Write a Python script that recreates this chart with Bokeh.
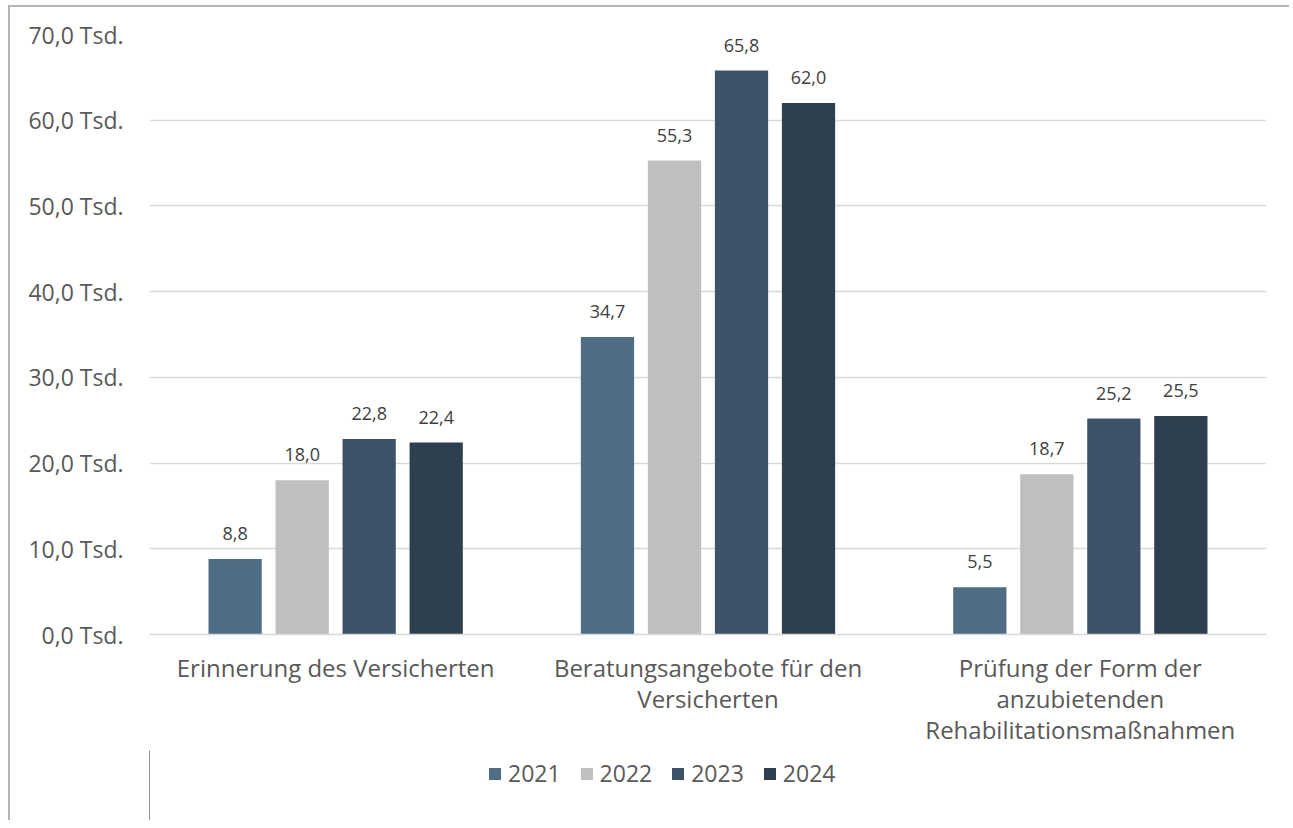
from bokeh.plotting import figure
from bokeh.models import FactorRange, FixedTicker, Legend, LegendItem, ColumnDataSource, Range1d
from bokeh.transform import dodge
from bokeh.layouts import column
from bokeh.embed import file_html
from bokeh.resources import INLINE

categories = ["Erinnerung des Versicherten",
              "Beratungsangebote für den\nVersicherten",
              "Prüfung der Form der\nanzubietenden\nRehabilitationsmaßnahmen"]
years = ["2021", "2022", "2023", "2024"]
values = {
    "2021": [8.8, 34.7, 5.5],
    "2022": [18.0, 55.3, 18.7],
    "2023": [22.8, 65.8, 25.2],
    "2024": [22.4, 62.0, 25.5],
}
colors = ["#4f6d87", "#bfbfbf", "#3d5267", "#2e4050"]
y_ticks = [0, 10, 20, 30, 40, 50, 60, 70]

FONT = "Open Sans"
BORDER = "2px solid #b4b4b4"

p = figure(x_range=FactorRange(factors=categories, range_padding=0),
           y_range=(0, 70), frame_width=1115, frame_height=598,
           output_backend="svg", toolbar_location=None,
           min_border_left=139, min_border_right=25, min_border_top=27,
           min_border_bottom=118)
p.styles = {"border-top": BORDER, "border-left": BORDER,
            "margin-left": "8px", "margin-top": "5px"}
p.outline_line_color = None
p.xgrid.grid_line_color = None
p.ygrid.grid_line_color = "#d9d9d9"
p.ygrid.grid_line_width = 1.5

offsets = [-0.27, -0.09, 0.09, 0.27]
for yr, col, off in zip(years, colors, offsets):
    src = ColumnDataSource(dict(cat=categories, v=values[yr],
                                lab=[f"{v:.1f}".replace(".", ",") for v in values[yr]]))
    p.vbar(x=dodge("cat", off, range=p.x_range), top="v", width=0.143,
           source=src, color=col, line_color=None)
    p.text(x=dodge("cat", off, range=p.x_range), y="v", text="lab", source=src,
           text_align="center", text_baseline="bottom", y_offset=-19,
           text_font_size="18px", text_color="#404040", text_font={"value": FONT})

p.yaxis.ticker = FixedTicker(ticks=y_ticks)
p.yaxis.major_label_overrides = {t: f"{t:.1f}".replace(".", ",") + " Tsd." for t in y_ticks}
p.yaxis.axis_line_color = None
p.yaxis.major_tick_line_color = None
p.yaxis.minor_tick_line_color = None
p.yaxis.major_label_standoff = 20
p.yaxis.major_label_text_font_size = "23px"
p.yaxis.major_label_text_color = "#595959"
p.yaxis.major_label_text_font = FONT

p.xaxis.axis_line_color = "#d9d9d9"
p.xaxis.axis_line_width = 1.5
p.xaxis.major_tick_line_color = None
p.xaxis.minor_tick_line_color = None
p.xaxis.major_tick_out = 0
p.xaxis.major_tick_in = 0
p.xaxis.major_label_standoff = 16
p.xaxis.major_label_text_font_size = "24px"
p.xaxis.major_label_text_color = "#595959"
p.xaxis.major_label_text_font = FONT
p.xaxis.major_label_text_line_height = 0.95
p.xaxis.major_label_orientation = "horizontal"

# legend strip below the chart
p2 = figure(frame_width=1115, frame_height=70, output_backend="svg",
            toolbar_location=None, min_border_left=139, min_border_right=25,
            min_border_top=0, min_border_bottom=0,
            x_range=Range1d(0, 1), y_range=Range1d(0, 1))
p2.styles = {"border-left": BORDER, "margin-left": "8px"}
p2.outline_line_color = None
p2.axis.visible = False
p2.grid.grid_line_color = None
items = []
for yr, col in zip(years, colors):
    r = p2.vbar(x=[-100], top=[1], width=0.5, color=col, line_color=None)
    items.append(LegendItem(label=yr, renderers=[r]))

legend = Legend(items=items, orientation="horizontal", location=(338, 31),
                label_text_font_size="23px", label_text_color="#595959",
                label_text_font=FONT, glyph_width=15, glyph_height=15,
                spacing=18, label_standoff=6, border_line_color=None,
                background_fill_alpha=0, padding=4, margin=0)
p2.add_layout(legend)

layout = column(p, p2, spacing=0)
open("out.html", "w").write(file_html(layout, INLINE))
